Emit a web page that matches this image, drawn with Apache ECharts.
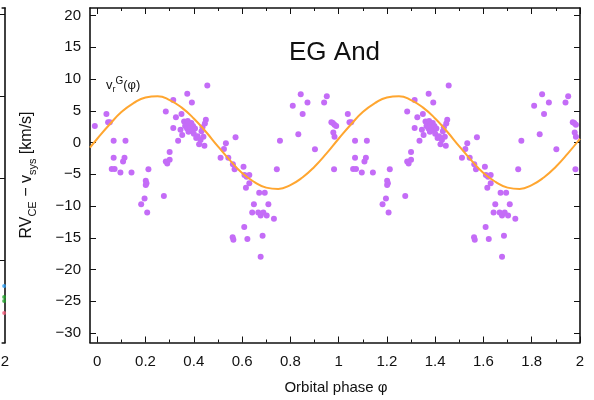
<!DOCTYPE html>
<html>
<head>
<meta charset="utf-8">
<script src="https://cdn.jsdelivr.net/npm/echarts@6/dist/echarts.min.js"></script>
<style>
  html, body { margin: 0; padding: 0; background: #ffffff; }
  #chart { width: 594px; height: 400px; }
</style>
</head>
<body>
<div id="chart"></div>
<script>
// Orbital phase of each radial-velocity measurement (one cycle)
const obsPhase = [
  0.038, 0.045, 0.052, 0.068, 0.117, 0.068, 0.113, 0.107, 0.060, 0.072,
  0.096, 0.142, 0.212, 0.201, 0.204, 0.201, 0.196, 0.182, 0.207, 0.276,
  0.284, 0.290, 0.300, 0.300, 0.284, 0.315, 0.315, 0.326, 0.335,
  0.349, 0.373, 0.392, 0.456, 0.450,
  0.345, 0.352, 0.360, 0.364, 0.368, 0.372, 0.375, 0.378, 0.382, 0.386,
  0.390, 0.393, 0.397, 0.400, 0.405, 0.410, 0.416, 0.422, 0.428, 0.432,
  0.436, 0.440, 0.444, 0.446,
  0.511, 0.525, 0.533, 0.543, 0.573, 0.562, 0.569, 0.606, 0.610, 0.619,
  0.630, 0.630, 0.616, 0.671, 0.694, 0.649, 0.709, 0.642, 0.667, 0.677,
  0.688, 0.702, 0.732, 0.609, 0.561, 0.564, 0.622, 0.685, 0.677, 0.744,
  0.757,
  0.810, 0.843, 0.871, 0.851, 0.833, 0.902, 0.940, 0.951, 0.970, 0.976,
  0.983, -0.010, 0.978, 0.983, 0.981
];
// RV_CE - v_sys in km/s, same order as obsPhase
const obsRv = [
  4.5, 3.2, 3.2, 0.3, 0.3, -2.4, -2.4, -3.0, -4.15, -4.15,
  -4.7, -4.7, -4.2, -6.0, -6.4, -6.7, -8.8, -9.7, -11.0, -8.4,
  -3.0, -3.3, -2.7, -1.5, 4.9, 6.7, 2.3, 4.0, 0.3,
  4.5, 7.7, 6.3, 9.0, 3.6,
  2.0, 1.2, 3.3, 2.6, 3.0, 2.2, 3.4, 1.7, 2.8, 2.4,
  3.1, 1.9, 2.6, 1.4, 2.2, 0.7, 1.0, -0.25, 0.4, 1.8,
  2.4, 0.9, -0.5, 3.0,
  -2.4, -1.0, -0.1, -2.4, 0.85, -3.4, -4.2, -3.8, -5.1, -5.4,
  -5.1, -6.4, -7.1, -7.9, -7.9, -9.7, -9.7, -11.0, -11.0, -11.5,
  -11.0, -11.5, -12.0, -13.3, -14.9, -15.3, -15.2, -14.7, -18.0, -4.2,
  0.3,
  5.8, 7.6, 6.3, 4.5, 1.3, -1.05, 6.3, 7.3, 3.2, 3.1,
  2.8, 2.6, 1.6, 0.9, -4.2
];

// Model curve v_r^G(phi) over one cycle
const curvePhase = [0, 0.05, 0.10, 0.15, 0.20, 0.25, 0.30, 0.35, 0.40, 0.45,
                    0.50, 0.55, 0.60, 0.65, 0.70, 0.75, 0.80, 0.85, 0.90, 0.95];
const curveRv = [0.6, 2.8, 4.8, 6.2, 7.1, 7.3, 6.7, 5.5, 3.8, 1.7,
                 -0.6, -2.8, -4.8, -6.2, -7.1, -7.3, -6.7, -5.5, -3.8, -1.7];

// Axis ticks and labels
const xTickValues = [0, 0.2, 0.4, 0.6, 0.8, 1, 1.2, 1.4, 1.6, 1.8, 2];
const xTickLabels = ['0', '0.2', '0.4', '0.6', '0.8', '1', '1.2', '1.4', '1.6', '1.8', '2'];
const xMinorValues = [0.1, 0.3, 0.5, 0.7, 0.9, 1.1, 1.3, 1.5, 1.7, 1.9];
const yTickValues = [-30, -25, -20, -15, -10, -5, 0, 5, 10, 15, 20];
const yTickLabels = ['\u221230', '\u221225', '\u221220', '\u221215', '\u221210', '\u22125', '0', '5', '10', '15', '20'];

// Neighbouring panel (only its right edge is in view)
const sideTickValues = [1, 2, 3, 4];
const sideX = [1.97, 1.97, 1.97, 1.97];
const sideY = [0.69, 0.555, 0.506, 0.36];
const sideColors = ['#2b9cf2', '#22a52a', '#22a52a', '#f25a78'];

const X_MIN = -0.03, X_MAX = 2;
const Y_MIN = -31.5, Y_MAX = 21.2;

const FONT = '"Liberation Sans", Arial, Helvetica, sans-serif';
const INK = '#111111';
const FRAME = { color: '#111111', width: 1.6 };

function labelFor(values, labels) {
  return function (v) {
    for (let i = 0; i < values.length; i++) {
      if (Math.abs(values[i] - v) < 1e-6) return labels[i];
    }
    return '';
  };
}

// Each observation is repeated one cycle later to cover phases 0..2
const scatterData = [];
for (let i = 0; i < obsPhase.length; i++) {
  [0, 1].forEach(function (shift) {
    const p = obsPhase[i] + shift;
    if (p >= X_MIN && p <= X_MAX) scatterData.push([p, obsRv[i]]);
  });
}

const curveData = [[X_MIN, -0.8]];
[0, 1].forEach(function (shift) {
  for (let i = 0; i < curvePhase.length; i++) {
    curveData.push([curvePhase[i] + shift, curveRv[i]]);
  }
});
curveData.push([2, curveRv[0]]);

function xAxisDef(position, values, len, withLabels, showLine) {
  return {
    type: 'value', gridIndex: 0, position: position,
    min: X_MIN, max: X_MAX,
    axisLine: { show: showLine, onZero: false, lineStyle: FRAME },
    axisTick: { show: true, inside: true, length: len, customValues: values,
                lineStyle: { color: '#111', width: 1 } },
    axisLabel: withLabels ? {
      show: true, customValues: values, margin: 12,
      formatter: labelFor(xTickValues, xTickLabels),
      fontFamily: FONT, fontSize: 15, color: INK
    } : { show: false },
    splitLine: { show: false }
  };
}

function yAxisDef(position, withLabels) {
  return {
    type: 'value', gridIndex: 0, position: position,
    min: Y_MIN, max: Y_MAX,
    axisLine: { show: true, onZero: false, lineStyle: FRAME },
    axisTick: { show: true, inside: true, length: 6, customValues: yTickValues,
                lineStyle: { color: '#111', width: 1 } },
    axisLabel: withLabels ? {
      show: true, customValues: yTickValues, margin: 9,
      formatter: labelFor(yTickValues, yTickLabels),
      fontFamily: FONT, fontSize: 15, color: INK
    } : { show: false },
    splitLine: { show: false }
  };
}

const chart = echarts.init(document.getElementById('chart'), null, { renderer: 'canvas' });

chart.setOption({
  animation: false,
  backgroundColor: '#ffffff',
  grid: [
    { left: 90, top: 8, width: 490, height: 334.5, containLabel: false },
    { left: 0, top: 8, width: 5, height: 334.5, containLabel: false }
  ],
  xAxis: [
    xAxisDef('bottom', xTickValues, 6, true, true),
    xAxisDef('bottom', xMinorValues, 3, false, false),
    xAxisDef('top', xTickValues, 6, false, true),
    xAxisDef('top', xMinorValues, 3, false, false),
    {
      type: 'value', gridIndex: 1, position: 'bottom', min: 1.9, max: 2,
      axisLine: { show: true, onZero: false, lineStyle: FRAME },
      axisTick: { show: false },
      axisLabel: { show: true, customValues: [2], margin: 12,
                   fontFamily: FONT, fontSize: 15, color: INK },
      splitLine: { show: false }
    },
    {
      type: 'value', gridIndex: 1, position: 'top', min: 1.9, max: 2,
      axisLine: { show: true, onZero: false, lineStyle: FRAME },
      axisTick: { show: false }, axisLabel: { show: false },
      splitLine: { show: false }
    }
  ],
  yAxis: [
    yAxisDef('left', true),
    yAxisDef('right', false),
    {
      type: 'value', gridIndex: 1, position: 'right', min: 0, max: 4.08,
      axisLine: { show: true, onZero: false, lineStyle: FRAME },
      axisTick: { show: true, inside: true, length: 5, customValues: sideTickValues,
                  lineStyle: { color: '#111', width: 1 } },
      axisLabel: { show: false },
      splitLine: { show: false }
    }
  ],
  series: [
    {
      name: 'RV', type: 'scatter', xAxisIndex: 0, yAxisIndex: 0,
      data: scatterData, symbol: 'circle', symbolSize: 6,
      itemStyle: { color: '#c46cf7', opacity: 1 },
      clip: true, z: 2
    },
    {
      name: 'vrG', type: 'line', xAxisIndex: 0, yAxisIndex: 0,
      data: curveData, smooth: 0.5, showSymbol: false, symbol: 'none',
      lineStyle: { color: '#ffa630', width: 2 },
      clip: true, z: 3
    },
    {
      name: 'side', type: 'scatter', xAxisIndex: 4, yAxisIndex: 2,
      data: sideX.map(function (x, i) {
        return { value: [x, sideY[i]], itemStyle: { color: sideColors[i] } };
      }),
      symbolSize: 4, clip: true
    }
  ],
  graphic: [
    {
      type: 'text', left: 289, top: 40,
      style: { text: 'EG And', fontFamily: FONT, fontSize: 26, fill: INK }
    },
    {
      type: 'text', x: 106, y: 76,
      style: {
        text: '{b|v}{sb|r}{sp|G}{b|(\u03c6)}',
        fill: INK,
        rich: {
          b: { fontFamily: FONT, fontSize: 13, lineHeight: 18, fill: INK },
          sb: { fontFamily: FONT, fontSize: 9, lineHeight: 8, verticalAlign: 'bottom', fill: INK },
          sp: { fontFamily: FONT, fontSize: 10, lineHeight: 9, verticalAlign: 'top', fill: INK }
        }
      }
    },
    {
      type: 'text', x: 27, y: 175, rotation: Math.PI / 2,
      style: {
        text: '{b|RV}{s|CE}{b| \u2212 v}{s|sys}{b| [km/s]}',
        align: 'center', verticalAlign: 'middle',
        fill: INK,
        rich: {
          b: { fontFamily: FONT, fontSize: 16, lineHeight: 22, fill: INK },
          s: { fontFamily: FONT, fontSize: 11, lineHeight: 10, verticalAlign: 'bottom', fill: INK }
        }
      }
    },
    {
      type: 'text', x: 336, y: 388,
      style: {
        text: 'Orbital phase \u03c6', fontFamily: FONT, fontSize: 15, fill: INK,
        align: 'center', verticalAlign: 'middle'
      }
    }
  ]
});
</script>
</body>
</html>
